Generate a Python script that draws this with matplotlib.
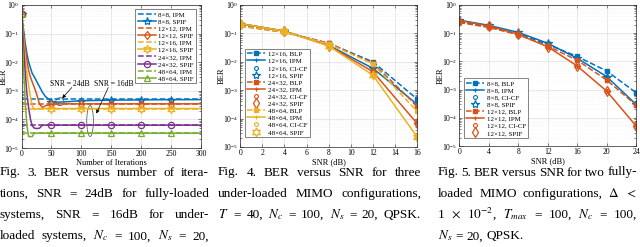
import matplotlib
matplotlib.use('Agg')
import matplotlib.pyplot as plt
from matplotlib.patches import Ellipse

plt.rcParams['font.family'] = ['Liberation Serif', 'DejaVu Serif']
plt.rcParams['mathtext.fontset'] = 'stix'

BLUE, ORANGE, YELLOW, PURPLE, GREEN = '#0072BD', '#D95319', '#EDB120', '#7E2F8E', '#77AC30'

# ---- Fig. 3: BER vs number of iterations ----
iters = [0, 3, 6, 9, 12, 15, 18, 21, 25, 30, 35, 40, 50, 60, 80, 100, 150, 200, 250, 300]
spif_8x8 = [0.5, 0.16, 0.05, 0.02, 1e-2, 6.3e-3, 4e-3, 3.2e-3, 2.2e-3, 1.4e-3, 8.9e-4, 6.3e-4,
            4.2e-4, 4.0e-4, 4.2e-4, 4.5e-4, 4.7e-4, 4.8e-4, 4.9e-4, 4.9e-4]
spif_12x12 = [0.5, 0.12, 0.035, 1.2e-2, 5e-3, 3e-3, 2e-3, 1.4e-3, 8e-4, 3.5e-4, 2.6e-4, 3.0e-4,
              3.4e-4, 3.5e-4, 3.5e-4, 3.5e-4, 3.5e-4, 3.5e-4, 3.5e-4, 3.5e-4]
spif_12x16 = [0.5, 0.08, 0.015, 4e-3, 1.5e-3, 6e-4, 3e-4, 2.3e-4, 2.3e-4, 2.4e-4, 2.4e-4, 2.4e-4,
              2.4e-4, 2.4e-4, 2.4e-4, 2.4e-4, 2.4e-4, 2.4e-4, 2.4e-4, 2.4e-4]
spif_24x32 = [0.5, 0.05, 5e-3, 8e-4, 2.5e-4, 1e-4, 6e-5, 5e-5, 4.8e-5, 4.9e-5, 6.3e-5, 6.3e-5,
              6.3e-5, 6.3e-5, 6.3e-5, 6.3e-5, 6.3e-5, 6.3e-5, 6.3e-5, 6.3e-5]
spif_48x64 = [0.5, 8e-3, 5e-4, 6e-5, 2.5e-5, 2.5e-5, 2.5e-5, 3.3e-5, 3.3e-5, 3.3e-5, 3.3e-5, 3.3e-5,
              3.3e-5, 3.3e-5, 3.3e-5, 3.3e-5, 3.3e-5, 3.3e-5, 3.3e-5, 3.3e-5]
ipm_8x8, ipm_12x12, ipm_12x16, ipm_24x32, ipm_48x64 = 5.2e-4, 3.5e-4, 2.4e-4, 6.3e-5, 3.3e-5

# ---- Fig. 4: under-loaded, BER vs SNR ----
snr4 = [0, 4, 8, 12, 16]
blp_12x16 = [0.19, 0.11, 0.045, 1.0e-2, 4.9e-4]
ipm_u_12x16 = [0.22, 0.12, 0.038, 5.9e-3, 3.2e-4]
cicf_12x16 = [0.22, 0.12, 0.038, 5.9e-3, 3.2e-4]
spif_u_12x16 = [0.22, 0.12, 0.038, 5.9e-3, 3.2e-4]
blp_24x32 = [0.18, 0.11, 0.045, 9e-3, 2.8e-4]
ipm_u_24x32 = [0.22, 0.12, 0.037, 4.5e-3, 6.8e-5]
cicf_24x32 = [0.22, 0.12, 0.037, 4.5e-3, 6.8e-5]
spif_u_24x32 = [0.22, 0.12, 0.037, 4.5e-3, 6.8e-5]
blp_48x64 = [0.18, 0.11, 0.043, 8.5e-3, 1.8e-4]
ipm_u_48x64 = [0.22, 0.12, 0.036, 3.4e-3, 2.3e-5]
cicf_48x64 = [0.22, 0.12, 0.036, 3.4e-3, 2.3e-5]
spif_u_48x64 = [0.22, 0.12, 0.036, 3.4e-3, 2.3e-5]

# ---- Fig. 5: fully-loaded, BER vs SNR ----
snr5 = [0, 4, 8, 12, 16, 20, 24]
blp_8x8 = [0.25, 0.17, 0.095, 0.040, 1.5e-2, 4.6e-3, 7.8e-4]
ipm_f_8x8 = [0.29, 0.19, 0.107, 0.044, 1.3e-2, 2.9e-3, 3.0e-4]
cicf_8x8 = [0.29, 0.19, 0.107, 0.044, 1.3e-2, 2.9e-3, 3.0e-4]
spif_f_8x8 = [0.29, 0.19, 0.107, 0.044, 1.3e-2, 2.9e-3, 3.0e-4]
blp_12x12 = [0.24, 0.16, 0.088, 0.035, 1.1e-2, 2.2e-3, 2.8e-4]
ipm_f_12x12 = [0.28, 0.18, 0.091, 0.033, 6.9e-3, 8.9e-4, 5.2e-5]
cicf_12x12 = [0.28, 0.18, 0.091, 0.033, 6.9e-3, 8.9e-4, 5.2e-5]
spif_f_12x12 = [0.28, 0.18, 0.091, 0.033, 6.9e-3, 8.9e-4, 5.2e-5]

HEXAGRAM = (6, 1, 0)

fig = plt.figure(figsize=(6.4, 2.47), dpi=100)
ax1 = fig.add_axes([0.0336, 0.4008, 0.2805, 0.579])
ax2 = fig.add_axes([0.3755, 0.4049, 0.2761, 0.5749])
ax3 = fig.add_axes([0.7177, 0.4089, 0.2761, 0.5709])


def style_axis(ax, label_x):
    ax.set_yscale('log')
    ax.set_ylim(1e-5, 1)
    ax.grid(True, which='major', color='#dedede', lw=0.5)
    ax.grid(True, which='minor', axis='y', color='#ececec', lw=0.4, ls=':')
    ax.set_axisbelow(True)
    ax.tick_params(which='both', direction='in', top=True, right=True, labelsize=5.5,
                   pad=1.5, width=0.4, color='#262626')
    ax.tick_params(which='major', length=2.5)
    ax.tick_params(which='minor', length=1.3)
    for s in ax.spines.values():
        s.set_linewidth(0.5)
        s.set_color('#262626')
    ax.set_ylabel('BER', fontsize=6)
    ax.yaxis.set_label_coords(label_x, 0.5)


def make_legend(ax, loc, anchor):
    leg = ax.legend(loc=loc, bbox_to_anchor=anchor, fontsize=5, labelspacing=0.18,
                    handlelength=2.6, handletextpad=0.4, borderpad=0.3, borderaxespad=0,
                    fancybox=False, framealpha=1, edgecolor='#262626')
    leg.get_frame().set_linewidth(0.4)


# Fig. 3
every = [i for i, t in enumerate(iters) if t % 50 == 0 and t < 300]
series3 = [
    ('8\u00d78', ipm_8x8, spif_8x8, BLUE, '*', 6),
    ('12\u00d712', ipm_12x12, spif_12x12, ORANGE, 'd', 4.5),
    ('12\u00d716', ipm_12x16, spif_12x16, YELLOW, HEXAGRAM, 6),
    ('24\u00d732', ipm_24x32, spif_24x32, PURPLE, 'o', 4.5),
    ('48\u00d764', ipm_48x64, spif_48x64, GREEN, '^', 4.5),
]
for name, ipm, spif, col, mk, ms in series3:
    ax1.plot(iters, [ipm] * len(iters), '--', color=col, lw=1.1, label=f'{name}, IPM')
    ax1.plot(iters, spif, '-', color=col, lw=1.1, marker=mk, ms=ms, mfc='none', mew=0.9,
             markevery=every, label=f'{name}, SPIF')
style_axis(ax1, -0.075)
ax1.set_xlim(0, 300)
ax1.set_xticks(range(0, 301, 50))
ax1.set_xlabel('Number of Iterations', fontsize=6, labelpad=0.5)
make_legend(ax1, 'upper right', (0.972, 0.970))

ax1.text(80, 1.75e-3, 'SNR = 24dB', fontsize=5.5, ha='center', va='center')
ax1.text(154, 1.75e-3, 'SNR = 16dB', fontsize=5.5, ha='center', va='center')
arrow = dict(arrowstyle='-|>', lw=0.5, color='black', mutation_scale=5, shrinkA=0, shrinkB=0)
ax1.annotate('', xy=(68, 5.5e-4), xytext=(84, 1.3e-3), arrowprops=arrow)
ax1.annotate('', xy=(125, 1.6e-4), xytext=(145, 1.3e-3), arrowprops=arrow)
ax1.add_patch(Ellipse((0.214, 0.324), 0.045, 0.056, transform=ax1.transAxes,
                      fill=False, ec='#444444', lw=0.5))
ax1.add_patch(Ellipse((0.382, 0.189), 0.037, 0.217, transform=ax1.transAxes,
                      fill=False, ec='#444444', lw=0.5))

# Fig. 4
series4 = [
    ('12\u00d716', blp_12x16, ipm_u_12x16, cicf_12x16, spif_u_12x16, BLUE, '*', 6),
    ('24\u00d732', blp_24x32, ipm_u_24x32, cicf_24x32, spif_u_24x32, ORANGE, 'd', 5),
    ('48\u00d764', blp_48x64, ipm_u_48x64, cicf_48x64, spif_u_48x64, YELLOW, HEXAGRAM, 6.5),
]
for name, blp, ipm, cicf, spif, col, mk, ms in series4:
    ax2.plot(snr4, blp, '--', color=col, lw=1.1, marker='s', ms=2.8, label=f'{name}, BLP')
    ax2.plot(snr4, ipm, '-', color=col, lw=1.1, marker='+', ms=3, mew=0.8, label=f'{name}, IPM')
    ax2.plot(snr4, cicf, 'o', color=col, ms=2.8, mfc='none', mew=0.8, label=f'{name}, CI-CF')
    ax2.plot(snr4, spif, ls='none', color=col, marker=mk, ms=ms, mfc='none', mew=0.9,
             label=f'{name}, SPIF')
style_axis(ax2, -0.08)
ax2.set_xlim(0, 16)
ax2.set_xticks(range(0, 17, 2))
ax2.set_xlabel('SNR (dB)', fontsize=6, labelpad=0.5)
make_legend(ax2, 'lower left', (0.027, 0.070))

# Fig. 5
series5 = [
    ('8\u00d78', blp_8x8, ipm_f_8x8, cicf_8x8, spif_f_8x8, BLUE, '*', 6),
    ('12\u00d712', blp_12x12, ipm_f_12x12, cicf_12x12, spif_f_12x12, ORANGE, 'd', 5),
]
for name, blp, ipm, cicf, spif, col, mk, ms in series5:
    ax3.plot(snr5, blp, '--', color=col, lw=1.1, marker='s', ms=2.8, label=f'{name}, BLP')
    ax3.plot(snr5, ipm, '-', color=col, lw=1.1, marker='+', ms=3, mew=0.8, label=f'{name}, IPM')
    ax3.plot(snr5, cicf, 'o', color=col, ms=2.8, mfc='none', mew=0.8, label=f'{name}, CI-CF')
    ax3.plot(snr5, spif, ls='none', color=col, marker=mk, ms=ms, mfc='none', mew=0.9,
             label=f'{name}, SPIF')
style_axis(ax3, -0.085)
ax3.set_xlim(0, 24)
ax3.set_xticks(range(0, 25, 4))
ax3.set_xlabel('SNR (dB)', fontsize=6, labelpad=0.5)
make_legend(ax3, 'lower left', (0.027, 0.057))


# ---- captions (justified lines, pixel layout) ----
def caption_line(tokens, x0, x1, ybase, justify=True, size=9.5):
    r = fig.canvas.get_renderer()
    W, H = fig.bbox.width, fig.bbox.height
    arts = [fig.text(0, 0, t, fontsize=size, ha='left', va='baseline') for t in tokens]
    widths = [a.get_window_extent(r).width for a in arts]
    if justify and len(tokens) > 1:
        gap = (x1 - x0 - sum(widths)) / (len(tokens) - 1)
    else:
        gap = size * 100 / 72 * 0.25
    x = x0
    for a, w in zip(arts, widths):
        a.set_position((x / W, 1 - ybase / H))
        x += w + gap


base = [175.5, 196.8, 218.1, 239.4]
cap3 = [
    ['Fig.', '3.', 'BER', 'versus', 'number', 'of', 'itera-'],
    ['tions,', 'SNR', '=', '24dB', 'for', 'fully-loaded'],
    ['systems,', 'SNR', '=', '16dB', 'for', 'under-'],
    ['loaded', 'systems,', '$N_c$', '=', '100,', '$N_s$', '=', '20,'],
]
cap4 = [
    ['Fig.', '4.', 'BER', 'versus', 'SNR', 'for', 'three'],
    ['under-loaded', 'MIMO', 'configurations,'],
    ['$T$', '=', '40,', '$N_c$', '=', '100,', '$N_s$', '=', '20,', 'QPSK.'],
]
cap5 = [
    ['Fig.', '5.', 'BER', 'versus', 'SNR', 'for', 'two', 'fully-'],
    ['loaded', 'MIMO', 'configurations,', r'$\Delta$', '$<$'],
    ['1', r'$\times$', '$10^{-2}$,', '$T_{max}$', '=', '100,', '$N_c$', '=', '100,'],
    ['$N_s$', '=', '20,', 'QPSK.'],
]
for toks, y in zip(cap3, base):
    caption_line(toks, 0, 209, y)
for toks, y in zip(cap4, base):
    caption_line(toks, 218, 421, y)
for i, (toks, y) in enumerate(zip(cap5, base)):
    caption_line(toks, 438, 637, y, justify=(i < 3))

fig.savefig('out.png', dpi=100)
